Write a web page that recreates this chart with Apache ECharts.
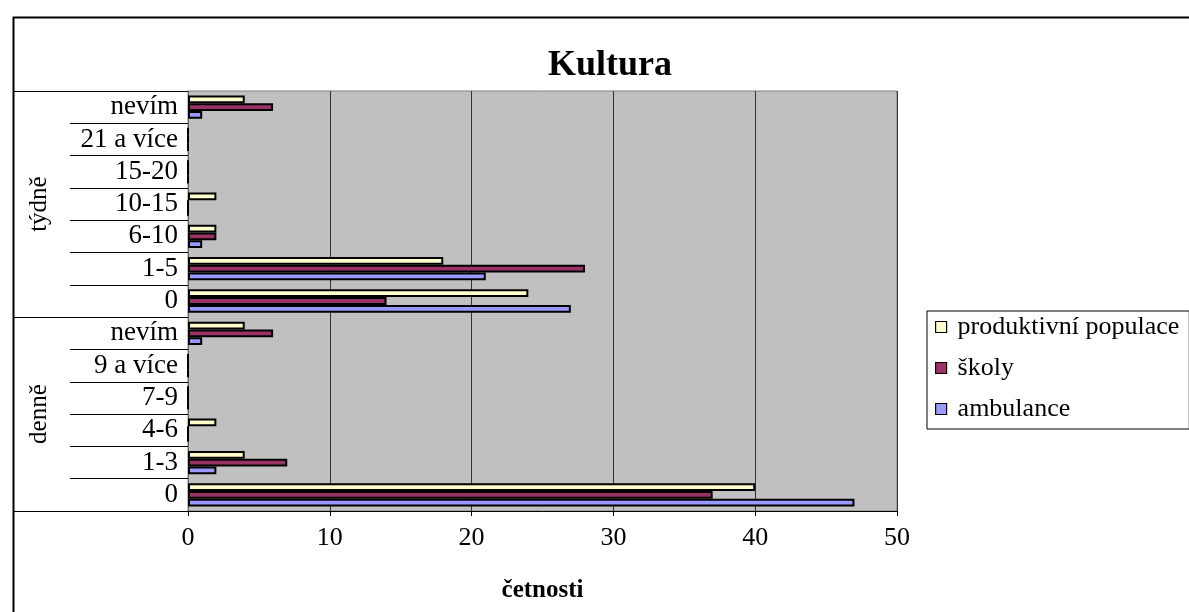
<!DOCTYPE html>
<html>
<head>
<meta charset="utf-8">
<script src="https://cdn.jsdelivr.net/npm/echarts@6/dist/echarts.min.js"></script>
<style>
html,body{margin:0;padding:0;background:#fff;}
#chart{width:1189px;height:612px;}
</style>
</head>
<body>
<div id="chart"></div>
<script>
// Categories, bottom to top
const categories = ['0','1-3','4-6','7-9','9 a více','nevím','0','1-5','6-10','10-15','15-20','21 a více','nevím'];
const groupNames = ['denně','týdně'];
const groupBounds = [0, 6, 13];
const groupCenters = [3, 9.5];
const ambulance  = [47, 2, 0, 0, 0, 1, 27, 21, 1, 0, 0, 0, 1];
const skoly      = [37, 7, 0, 0, 0, 6, 14, 28, 2, 0, 0, 0, 6];
const produktivni = [40, 4, 2, 0, 0, 4, 24, 18, 2, 2, 0, 0, 4];
const xTicks = [0, 10, 20, 30, 40, 50];

const serif = '"Liberation Serif","Times New Roman",serif';
const chart = echarts.init(document.getElementById('chart'));

function barSeries(name, data, color) {
  return {
    name: name, type: 'bar', data: data,
    barGap: '0%', barCategoryGap: '28%',
    itemStyle: { color: color, borderColor: '#000', borderWidth: 2 },
    emphasis: { disabled: true }
  };
}

chart.setOption({
  animation: false,
  backgroundColor: '#fff',
  title: {
    text: 'Kultura', left: 605, top: 43, textAlign: 'center',
    textStyle: { fontFamily: serif, fontSize: 36, fontWeight: 'bold', color: '#000' }
  },
  legend: {
    orient: 'vertical', left: 927, top: 311,
    data: ['produktivní populace', 'školy', 'ambulance'],
    icon: 'rect',
    borderColor: '#000', borderWidth: 1,
    padding: [3, 10, 7, 8],
    itemWidth: 11, itemHeight: 11, itemGap: 15,
    itemStyle: { borderColor: '#000', borderWidth: 1.2 },
    textStyle: { fontFamily: serif, fontSize: 26, color: '#000', lineHeight: 26, padding: [0, 0, 0, 6] },
    selectedMode: false
  },
  grid: {
    left: 188, right: 292, top: 91, bottom: 101,
    show: true, backgroundColor: '#C0C0C0', borderColor: '#808080', borderWidth: 1
  },
  xAxis: {
    type: 'value', min: xTicks[0], max: xTicks[xTicks.length - 1], interval: 10,
    name: 'četnosti', nameLocation: 'middle', nameGap: 67,
    nameTextStyle: { fontFamily: serif, fontSize: 25, fontWeight: 'bold', color: '#000' },
    axisLine: { show: true, lineStyle: { color: '#000', width: 1 } },
    axisTick: { show: true, length: 5, lineStyle: { color: '#000' } },
    axisLabel: { fontFamily: serif, fontSize: 26, color: '#000', margin: 14 },
    splitLine: { show: true, lineStyle: { color: '#333', width: 1 } }
  },
  yAxis: [
    {
      type: 'category', data: categories, position: 'left',
      axisLine: { show: true, lineStyle: { color: '#666', width: 1 } },
      axisTick: { show: true, length: 118, lineStyle: { color: '#000', width: 1 } },
      axisLabel: { fontFamily: serif, fontSize: 27, color: '#000', margin: 10, interval: 0 },
      splitLine: { show: false }
    },
    {
      type: 'value', min: 0, max: 13, position: 'left',
      axisLine: { show: false },
      axisTick: { show: true, length: 175, customValues: groupBounds, lineStyle: { color: '#000', width: 1 } },
      axisLabel: {
        show: true, customValues: groupCenters, rotate: 90, margin: 136,
        fontFamily: serif, fontSize: 25, color: '#000',
        formatter: function (v) { return v < groupBounds[1] ? groupNames[0] : groupNames[1]; }
      },
      splitLine: { show: false }
    }
  ],
  series: [
    barSeries('produktivní populace', produktivni, '#FFFFCC'),
    barSeries('školy', skoly, '#993366'),
    barSeries('ambulance', ambulance, '#9999FF')
  ],
  graphic: [{
    type: 'rect', left: 11, top: 15, silent: true,
    shape: { width: 1200, height: 620 },
    style: { fill: null, stroke: '#000', lineWidth: 2 }
  }]
});
</script>
</body>
</html>
